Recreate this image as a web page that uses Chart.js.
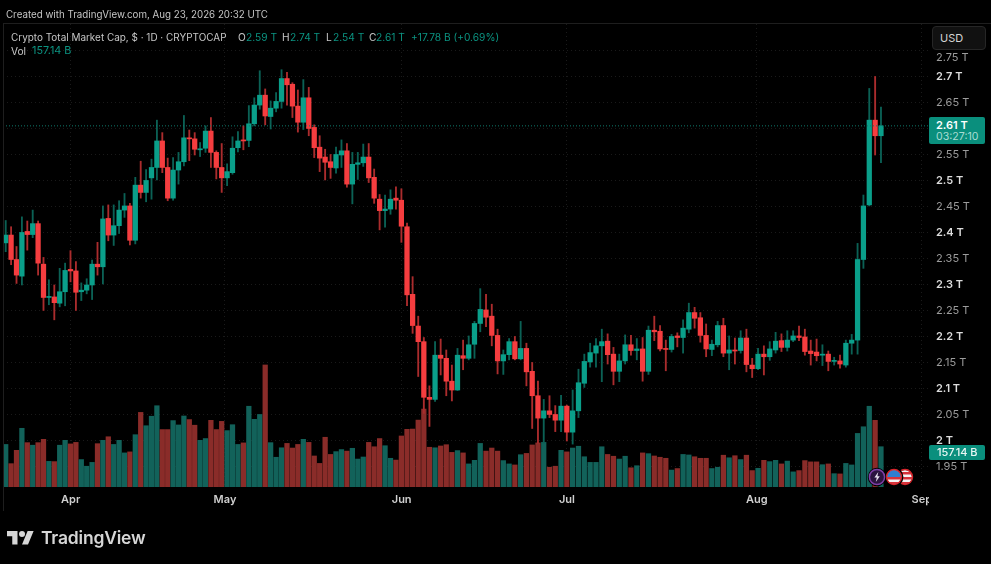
<!DOCTYPE html>
<html>
<head>
<meta charset="utf-8">
<title>Crypto Total Market Cap</title>
<script src="https://cdn.jsdelivr.net/npm/chart.js@4"></script>
<style>
    html, body { margin: 0; padding: 0; background: #000; }
    body { position: relative; width: 991px; height: 564px; overflow: hidden; font-family: Inter, sans-serif; color: #c6c6c6; }
    canvas { position: absolute; left: 0; top: 0; filter: blur(0.35px); }
    .t { position: absolute; white-space: nowrap; line-height: 14px; font-size: 10.2px; }
    .teal { color: #0b9482; }
    #frame { position: absolute; left: 3px; top: 23px; width: 988px; height: 487px; border-left: 1px solid #1e1e1e; border-top: 1px solid #1e1e1e; }
    #sepClip { position: absolute; left: 929px; top: 489px; width: 62px; height: 24px; background: #000; }
    #usd { position: absolute; left: 932px; top: 26px; width: 52px; height: 22px; border: 1px solid #262626; border-radius: 4px; background: #111; color: #d4d4d4; font-size: 11px; line-height: 22px; text-indent: 7px; }
    .tag { position: absolute; left: 929px; width: 56px; background: #0a8f7d; border-radius: 2px; }
    #logo { position: absolute; left: 7px; top: 528px; }
    #brand { position: absolute; left: 41px; top: 526px; font-size: 17.5px; line-height: 24px; font-weight: 600; color: #d6d6d6; letter-spacing: -0.2px; }
    #events { position: absolute; left: 866px; top: 465px; }
</style>
</head>
<body>
<canvas id="chart" width="991" height="564"></canvas>
<div id="frame"></div>
<div id="sepClip"></div>

<div class="t" style="left:6px;top:8px;font-size:9.75px">Created with TradingView.com, Aug 23, 2026 20:32 UTC</div>
<div class="t" style="left:11px;top:29.5px;font-size:9.95px">Crypto Total Market Cap, $ · 1D · CRYPTOCAP</div>
<div class="t" style="left:238px;top:29.5px">O</div><div class="t teal" style="left:246px;top:29.5px">2.59 T</div>
<div class="t" style="left:282px;top:29.5px">H</div><div class="t teal" style="left:290px;top:29.5px">2.74 T</div>
<div class="t" style="left:326px;top:29.5px">L</div><div class="t teal" style="left:333px;top:29.5px">2.54 T</div>
<div class="t" style="left:369px;top:29.5px">C</div><div class="t teal" style="left:376px;top:29.5px">2.61 T</div>
<div class="t teal" style="left:411px;top:29.5px">+17.78 B (+0.69%)</div>
<div class="t" style="left:11px;top:44px">Vol</div><div class="t teal" style="left:32px;top:44px;font-size:10.8px">157.14 B</div>

<div id="usd">USD</div>
<div class="tag" style="top:117px;height:27px"></div>
<div class="t" style="left:936px;top:118px;color:#fff;font-weight:600;font-size:11px">2.61 T</div>
<div class="t" style="left:936px;top:130px;color:#a9dcd3;font-size:10.6px">03:27:10</div>
<div class="tag" style="top:445px;height:15px"></div>
<div class="t" style="left:937px;top:445px;color:#e8f6f3;font-weight:500;font-size:11px">157.14 B</div>

<svg id="events" width="52" height="24" viewBox="0 0 52 24">
    <clipPath id="c2"><circle cx="28" cy="12" r="7"/></clipPath>
    <clipPath id="c3"><circle cx="39" cy="12" r="7"/></clipPath>
    <g id="flag3" clip-path="url(#c3)">
        <rect x="30" y="3" width="18" height="18" fill="#f4f4f4"/>
        <rect x="30" y="7" width="18" height="2.5" fill="#d8333a"/><rect x="30" y="12" width="18" height="2.5" fill="#d8333a"/><rect x="30" y="17" width="18" height="2.5" fill="#d8333a"/>
    </g>
    <circle cx="39" cy="12" r="7.5" fill="none" stroke="#d8252b" stroke-width="1.4"/>
    <circle cx="28" cy="12" r="9.4" fill="#000"/>
    <g clip-path="url(#c2)">
        <rect x="19" y="3" width="18" height="18" fill="#f4f4f4"/>
        <rect x="19" y="12" width="18" height="2.5" fill="#d8333a"/><rect x="19" y="17" width="18" height="2.5" fill="#d8333a"/>
        <rect x="19" y="3" width="18" height="9" fill="#2f7fd0"/>
    </g>
    <circle cx="28" cy="12" r="7.5" fill="none" stroke="#d8252b" stroke-width="1.4"/>
    <circle cx="11" cy="12" r="9.2" fill="#000"/>
    <circle cx="11" cy="12" r="7.6" fill="#2b1440" stroke="#7d3fa6" stroke-width="1.5"/>
    <path d="M12.3 7 L8.4 12.6 H10.8 L9.8 17 L13.8 11.2 H11.4 Z" fill="#e8e2f0"/>
</svg>

<svg id="logo" width="27" height="21" viewBox="0 0 36 28" fill="#d6d6d6">
    <path d="M14 22H7V11H0V4h14v18zM28 22h-8l7.5-18h8L28 22z"/><circle cx="20" cy="8" r="4"/>
</svg>
<div id="brand">TradingView</div>

<script>
// Daily candles, Mar 20 to Aug 23, values in trillions
const opens = [2.381,2.396,2.349,2.317,2.403,2.397,2.418,2.340,2.276,2.277,2.265,2.287,2.330,2.327,2.287,2.290,2.300,2.340,2.335,2.428,
    2.396,2.414,2.444,2.452,2.386,2.492,2.478,2.506,2.526,2.577,2.526,2.467,2.521,2.537,2.583,2.581,2.560,2.563,2.596,2.555,
    2.526,2.506,2.516,2.564,2.579,2.578,2.610,2.646,2.665,2.624,2.640,2.653,2.697,2.686,2.644,2.613,2.660,2.603,2.565,2.546,
    2.537,2.525,2.550,2.558,2.494,2.532,2.535,2.546,2.507,2.465,2.443,2.446,2.467,2.463,2.412,2.282,2.221,2.191,2.084,2.080,
    2.165,2.159,2.115,2.098,2.164,2.159,2.186,2.226,2.252,2.240,2.203,2.154,2.166,2.191,2.158,2.178,2.134,2.087,2.044,2.058,
    2.051,2.040,2.067,2.017,2.058,2.111,2.152,2.169,2.183,2.192,2.167,2.134,2.154,2.185,2.174,2.177,2.134,2.213,2.211,2.178,
    2.176,2.202,2.199,2.215,2.247,2.237,2.203,2.176,2.185,2.222,2.169,2.175,2.174,2.198,2.146,2.139,2.167,2.162,2.175,2.193,
    2.180,2.194,2.202,2.200,2.173,2.171,2.165,2.167,2.153,2.154,2.146,2.188,2.194,2.349,2.454,2.617,2.587];
const highs = [2.424,2.412,2.374,2.431,2.423,2.444,2.423,2.353,2.310,2.300,2.332,2.342,2.366,2.345,2.304,2.312,2.348,2.382,2.452,2.454,
    2.454,2.462,2.476,2.457,2.507,2.538,2.522,2.542,2.617,2.593,2.544,2.545,2.555,2.626,2.598,2.593,2.574,2.606,2.622,2.558,
    2.572,2.533,2.585,2.595,2.606,2.645,2.660,2.712,2.677,2.654,2.670,2.714,2.709,2.689,2.675,2.695,2.680,2.608,2.587,2.561,
    2.551,2.565,2.579,2.572,2.555,2.555,2.571,2.572,2.523,2.474,2.473,2.483,2.489,2.485,2.419,2.316,2.240,2.199,2.106,2.191,
    2.196,2.175,2.146,2.178,2.194,2.202,2.230,2.293,2.282,2.263,2.215,2.175,2.197,2.201,2.230,2.188,2.151,2.115,2.080,2.087,
    2.068,2.088,2.069,2.098,2.138,2.167,2.188,2.197,2.215,2.206,2.180,2.167,2.204,2.203,2.197,2.199,2.221,2.240,2.222,2.194,
    2.205,2.208,2.233,2.265,2.257,2.247,2.225,2.194,2.230,2.236,2.202,2.198,2.212,2.215,2.159,2.178,2.183,2.191,2.209,2.206,
    2.212,2.212,2.221,2.215,2.194,2.196,2.185,2.173,2.161,2.165,2.194,2.205,2.380,2.473,2.678,2.701,2.642];
const lows = [2.364,2.339,2.303,2.300,2.367,2.391,2.319,2.251,2.262,2.233,2.258,2.260,2.306,2.251,2.270,2.283,2.272,2.319,2.302,2.385,
    2.376,2.399,2.430,2.377,2.379,2.467,2.460,2.465,2.502,2.516,2.462,2.463,2.494,2.529,2.539,2.550,2.547,2.555,2.526,2.504,
    2.478,2.491,2.513,2.556,2.560,2.566,2.606,2.638,2.608,2.600,2.633,2.640,2.646,2.622,2.594,2.599,2.587,2.545,2.518,2.502,
    2.505,2.515,2.526,2.488,2.456,2.503,2.528,2.497,2.457,2.406,2.411,2.436,2.446,2.382,2.260,2.207,2.124,2.053,2.028,2.076,
    2.127,2.087,2.077,2.097,2.137,2.156,2.159,2.210,2.220,2.183,2.129,2.128,2.156,2.156,2.156,2.106,2.024,1.996,1.996,2.045,
    2.018,2.018,2.000,1.994,2.045,2.103,2.142,2.142,2.114,2.148,2.108,2.114,2.148,2.165,2.156,2.115,2.128,2.193,2.173,2.135,
    2.171,2.181,2.169,2.208,2.217,2.190,2.162,2.164,2.181,2.162,2.137,2.148,2.169,2.133,2.122,2.137,2.127,2.155,2.169,2.172,
    2.173,2.191,2.193,2.165,2.146,2.154,2.145,2.135,2.146,2.140,2.142,2.167,2.167,2.332,2.452,2.550,2.535];
const closes = [2.396,2.349,2.319,2.401,2.397,2.418,2.342,2.276,2.278,2.266,2.287,2.328,2.327,2.286,2.290,2.300,2.340,2.335,2.427,2.396,
    2.414,2.444,2.452,2.386,2.492,2.478,2.501,2.526,2.577,2.526,2.467,2.521,2.537,2.583,2.581,2.561,2.562,2.596,2.555,2.526,
    2.506,2.518,2.563,2.577,2.577,2.610,2.646,2.665,2.625,2.640,2.653,2.697,2.685,2.644,2.613,2.660,2.601,2.564,2.544,2.536,
    2.526,2.551,2.558,2.494,2.532,2.535,2.546,2.506,2.467,2.443,2.446,2.465,2.463,2.413,2.281,2.222,2.191,2.084,2.080,2.165,
    2.159,2.115,2.098,2.165,2.159,2.185,2.226,2.253,2.238,2.203,2.154,2.166,2.191,2.158,2.178,2.133,2.087,2.044,2.058,2.051,
    2.040,2.067,2.017,2.058,2.112,2.153,2.170,2.183,2.191,2.166,2.134,2.154,2.185,2.174,2.177,2.134,2.213,2.210,2.177,2.176,
    2.201,2.199,2.217,2.247,2.236,2.203,2.177,2.186,2.222,2.169,2.175,2.173,2.198,2.147,2.139,2.167,2.162,2.177,2.192,2.180,
    2.194,2.202,2.199,2.172,2.168,2.164,2.167,2.153,2.155,2.148,2.188,2.194,2.349,2.452,2.617,2.587,2.606];
const volumes = [166,91,143,229,173,163,173,186,100,99,163,182,168,174,107,81,96,169,182,196,
    166,182,133,137,204,291,239,276,317,224,224,259,242,277,263,241,182,189,260,224,
    256,220,243,166,172,315,264,283,476,173,116,153,170,152,166,186,174,121,92,194,
    127,138,146,140,151,109,117,174,157,189,161,112,105,199,225,226,261,304,155,153,
    160,165,135,142,133,90,104,170,140,152,140,103,90,86,126,131,164,172,174,77,
    81,143,137,152,159,118,96,96,157,127,120,109,120,75,83,133,130,121,116,112,
    66,72,127,125,118,112,112,72,77,124,114,122,107,124,64,73,104,99,104,90,
    101,59,64,103,98,98,87,90,52,51,92,86,209,235,315,260,157.14];
const lastPrice = 2.606;

const yTicks = [1.95, 2, 2.05, 2.1, 2.15, 2.2, 2.25, 2.3, 2.35, 2.4, 2.45, 2.5, 2.55, 2.6, 2.65, 2.7, 2.738, 2.75];
const yLabels = ['1.95 T', '2 T', '2.05 T', '2.1 T', '2.15 T', '2.2 T', '2.25 T', '2.3 T', '2.35 T', '2.4 T', '2.45 T', '2.5 T', '2.55 T', '', '2.65 T', '2.7 T', '2.75 T', ''];
const monthTicks = [11.61, 39.16, 70.71, 100.23, 134.11, 163.6];
const monthLabels = ['Apr', 'May', 'Jun', 'Jul', 'Aug', 'Sep'];

// The screenshot is not evenly spaced, so nudge the days a little along the axis
const nudgeAt = [0, 42, 73, 85, 102, 117, 134, 156];
const nudgeBy = [0, -1.5, -2.34, -2.32, -1.8, -1.18, -0.7, 0.3];
function dayPosition(i) {
    let k = 0;
    while (k < nudgeAt.length - 2 && i > nudgeAt[k + 1]) k++;
    const f = (i - nudgeAt[k]) / (nudgeAt[k + 1] - nudgeAt[k]);
    return i + nudgeBy[k] + f * (nudgeBy[k + 1] - nudgeBy[k]);
}

const UP = '#0a9f8a', DOWN = '#f53d3f';
const UP_WICK = '#0b6155', DOWN_WICK = '#ab2c2d';
const UP_VOL = '#12625a', DOWN_VOL = '#8a2c29';

const days = closes.map((c, i) => dayPosition(i));
const isUp = closes.map((c, i) => c >= opens[i]);
// the scale also asks for its options without a tick while it measures itself
const isMajor = ctx => !!ctx.tick && Math.round(ctx.tick.value * 100) % 10 === 0;

new Chart(document.getElementById('chart'), {
    type: 'bar',
    data: {
        labels: days,
        datasets: [
            {
                type: 'line',
                data: [{ x: -0.482, y: lastPrice }, { x: 164.875, y: lastPrice }],
                borderColor: '#0f7a6c',
                borderWidth: 1,
                borderDash: [1, 2],
                pointRadius: 0,
                order: 0
            },
            {
                data: opens.map((o, i) => [o, closes[i]]),
                backgroundColor: isUp.map(u => u ? UP : DOWN),
                barThickness: 4.6,
                grouped: false,
                order: 1
            },
            {
                data: lows.map((l, i) => [l, highs[i]]),
                backgroundColor: isUp.map(u => u ? UP_WICK : DOWN_WICK),
                barThickness: 1.2,
                grouped: false,
                order: 2
            },
            {
                data: volumes,
                yAxisID: 'yVol',
                backgroundColor: isUp.map(u => u ? UP_VOL : DOWN_VOL),
                barThickness: 4.6,
                grouped: false,
                order: 3
            }
        ]
    },
    options: {
        responsive: false,
        animation: false,
        layout: { padding: { left: 3, top: 24 } },
        plugins: { legend: { display: false }, tooltip: { enabled: false } },
        scales: {
            x: {
                type: 'linear',
                offset: false,
                min: -0.482,
                max: 164.875,
                afterBuildTicks: scale => { scale.ticks = monthTicks.map(value => ({ value })); },
                afterFit: scale => { scale.height = 77; },
                grid: { offset: false, color: '#1a1a1a', drawTicks: false },
                border: { display: false, dash: [1, 3] },
                ticks: {
                    autoSkip: false,
                    maxRotation: 0,
                    padding: 6,
                    color: '#cfcfcf',
                    font: { family: 'Inter', size: 11, weight: '600' },
                    callback: value => monthLabels[monthTicks.indexOf(value)]
                }
            },
            y: {
                position: 'right',
                min: 1.9115,
                max: 2.8019,
                afterBuildTicks: scale => { scale.ticks = yTicks.map(value => ({ value })); },
                afterFit: scale => { scale.width = 62; },
                grid: {
                    color: ctx => ctx.tick && ctx.tick.value === 2.738 ? 'transparent' : '#1a1a1a',
                    drawTicks: false
                },
                border: { display: false, dash: [1, 3] },
                ticks: {
                    autoSkip: false,
                    padding: 7,
                    color: ctx => isMajor(ctx) ? '#dddddd' : '#9c9c9c',
                    font: ctx => ({ family: 'Inter', size: 11, weight: isMajor(ctx) ? '600' : '400' }),
                    callback: value => yLabels[yTicks.indexOf(value)]
                }
            },
            yVol: { display: false, min: 0, max: 1806 }
        }
    }
});
</script>
</body>
</html>
